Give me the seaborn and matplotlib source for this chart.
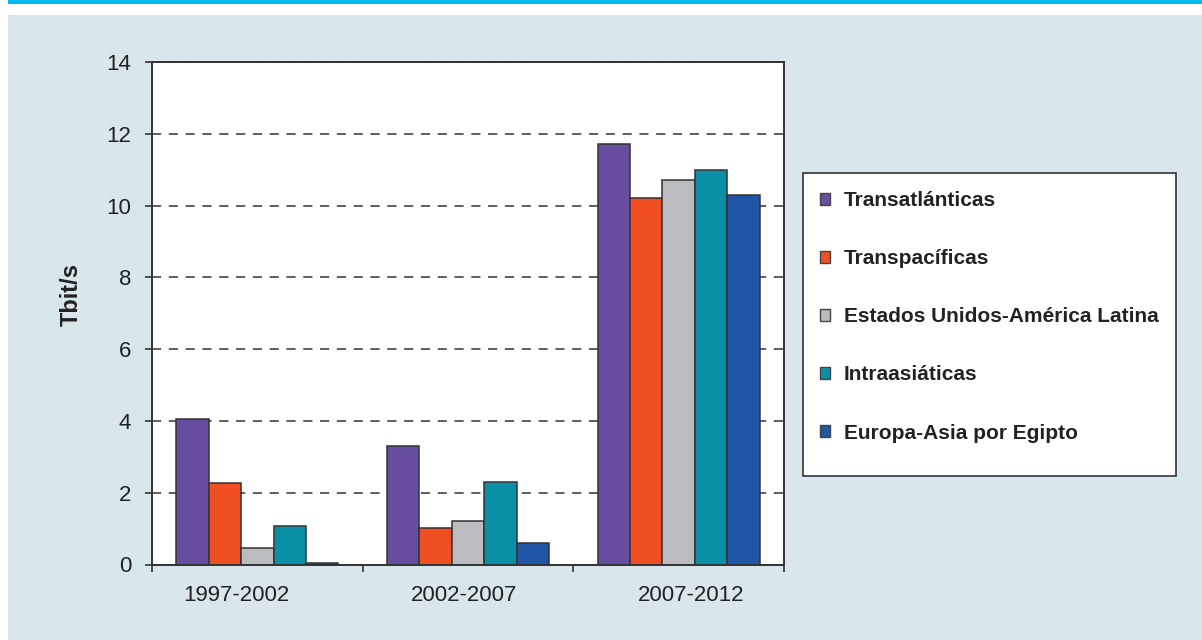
import matplotlib
matplotlib.use("Agg")
import matplotlib.pyplot as plt
from matplotlib.patches import Rectangle, Patch
from matplotlib.ticker import FixedLocator
import seaborn as sns
import pandas as pd

periods = ["1997-2002", "2002-2007", "2007-2012"]
series = ["Transatlánticas", "Transpacíficas", "Estados Unidos-América Latina",
          "Intraasiáticas", "Europa-Asia por Egipto"]
transatlanticas = [4.05, 3.31, 11.72]
transpacificas = [2.26, 1.01, 10.2]
eeuu_al = [0.46, 1.2, 10.7]
intraasiaticas = [1.08, 2.31, 11.0]
europa_asia = [0.03, 0.6, 10.3]
yticks = [0, 2, 4, 6, 8, 10, 12, 14]
colors = ["#674ea0", "#f04e23", "#bbbcc0", "#0a90a6", "#2155a5"]

values = [transatlanticas, transpacificas, eeuu_al, intraasiaticas, europa_asia]
rows = []
for s, vals in zip(series, values):
    for p, v in zip(periods, vals):
        rows.append({"period": p, "series": s, "value": v})
df = pd.DataFrame(rows)

sns.set_style("white")
plt.rcParams['font.family'] = ['Liberation Sans', 'DejaVu Sans']

fig = plt.figure(figsize=(12.02, 6.40), dpi=100)
fig.patch.set_facecolor("white")
# background panel and top bar
fig.patches.append(Rectangle((8/1202, 0), 1 - 8/1202, 1 - 14.5/640,
                             transform=fig.transFigure, facecolor="#d9e7ed",
                             edgecolor="none", zorder=-10))
fig.patches.append(Rectangle((8/1202, 1 - 4/640), 1 - 8/1202, 4/640,
                             transform=fig.transFigure, facecolor="#00b9f2",
                             edgecolor="none", zorder=-10))

ax = fig.add_axes([152/1202, (640 - 564.5)/640, 632/1202, 502.5/640])
ax.set_facecolor("white")

sns.barplot(data=df, x="period", y="value", hue="series", hue_order=series,
            order=periods, palette=colors, saturation=1, width=0.77,
            edgecolor="#333333", linewidth=1.1, ax=ax, legend=False, zorder=3)

ax.set_ylim(0, 14)
ax.set_xlim(-0.5, 2.5)
ax.set_yticks(yticks)
ax.set_yticklabels([str(t) for t in yticks], fontsize=16)
ax.yaxis.grid(True, linestyle=(0, (6, 5)), color="#333333", linewidth=1.1, zorder=1)
ax.set_axisbelow(True)
ax.xaxis.grid(False)

# category labels sit slightly off-centre in the reference
ax.set_xticks([-0.10, 0.98, 2.06])
ax.set_xticklabels(periods)

for sp in ax.spines.values():
    sp.set_visible(True)
    sp.set_color("#333333")
    sp.set_linewidth(1.4)
    sp.set_zorder(5)

ax.tick_params(axis="y", which="major", left=True, direction="out", length=5,
               width=1.2, color="#333333", pad=10, labelcolor="#222222")
ax.tick_params(axis="x", which="major", bottom=True, length=0, pad=15,
               labelsize=16, labelcolor="#222222")
ax.xaxis.set_minor_locator(FixedLocator([-0.5, 0.5, 1.5, 2.5]))
ax.tick_params(axis="x", which="minor", bottom=True, direction="out", length=5,
               width=1.2, color="#333333")

ax.set_xlabel("")
ax.set_ylabel("Tbit/s", fontsize=17, fontweight="bold", color="#222222")
ax.yaxis.set_label_coords(-0.127, 0.538)
ax.yaxis.label.set_verticalalignment("center")

# legend box
fig.patches.append(Rectangle((803/1202, 1 - 476/640), (1176 - 803)/1202, (476 - 172.7)/640,
                             transform=fig.transFigure, facecolor="white",
                             edgecolor="#333333", linewidth=1.2, zorder=1))
handles = [Patch(facecolor=c, edgecolor="#444444", linewidth=1.0) for c in colors]
leg = fig.legend(handles, series, loc="upper left",
                 bbox_to_anchor=(820/1202, 1 - 191/640), frameon=False,
                 prop={"weight": "bold", "size": 15}, handlelength=0.5,
                 handleheight=0.5, handletextpad=0.65, labelspacing=1.88,
                 borderpad=0, borderaxespad=0)
for t in leg.get_texts():
    t.set_color("#222222")

fig.savefig("out.png", dpi=100, facecolor=fig.get_facecolor())
